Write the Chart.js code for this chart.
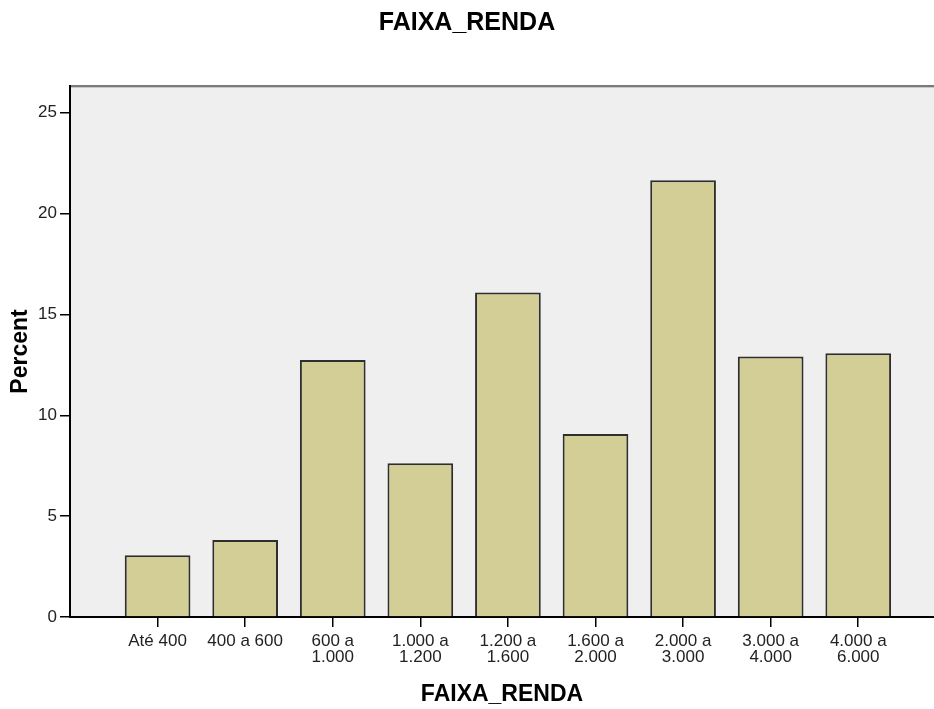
<!DOCTYPE html>
<html>
<head>
<meta charset="utf-8">
<script src="https://cdn.jsdelivr.net/npm/chart.js"></script>
<style>
  html, body { margin: 0; padding: 0; background: #fff; overflow: hidden; }
  #wrap { width: 934px; height: 709px; }
</style>
</head>
<body>
<div id="wrap"><canvas id="rendaChart" width="934" height="709"></canvas></div>
<script>
// categorias e percentuais
const categories = [
  "Até 400", "400 a 600", ["600 a", "1.000"], ["1.000 a", "1.200"], ["1.200 a", "1.600"],
  ["1.600 a", "2.000"], ["2.000 a", "3.000"], ["3.000 a", "4.000"], ["4.000 a", "6.000"]
];
const percentValues = [3.06, 3.82, 12.74, 7.62, 16.08, 9.07, 21.65, 12.91, 13.07];
const yTicks = [0, 5, 10, 15, 20, 25];

const FONT = "'Liberation Sans', Arial, sans-serif";

// fundo cinza da área do gráfico + linha superior
const plotFrame = {
  id: "plotFrame",
  beforeDraw(chart) {
    const { ctx, chartArea: a } = chart;
    ctx.save();
    ctx.fillStyle = "#efefef";
    ctx.fillRect(a.left, a.top, a.right - a.left, a.bottom - a.top);
    ctx.strokeStyle = "#7a7a7a";
    ctx.lineWidth = 2;
    ctx.beginPath();
    ctx.moveTo(a.left, a.top);
    ctx.lineTo(a.right, a.top);
    ctx.stroke();
    ctx.strokeStyle = "#c8c8c8";
    ctx.lineWidth = 1;
    ctx.beginPath();
    ctx.moveTo(a.left, a.top + 1.5);
    ctx.lineTo(a.right, a.top + 1.5);
    ctx.stroke();
    ctx.restore();
  }
};

new Chart(document.getElementById("rendaChart"), {
  type: "bar",
  data: {
    datasets: [{
      label: "Percent",
      data: percentValues.map((v, i) => ({ x: i, y: v })),
      backgroundColor: "#d2ce96",
      borderColor: "#2e2e2e",
      borderWidth: 2,
      barPercentage: 0.75,
      categoryPercentage: 1
    }]
  },
  options: {
    responsive: false,
    animation: false,
    layout: { padding: 0 },
    plugins: {
      legend: { display: false },
      tooltip: { enabled: false },
      title: {
        display: true,
        text: "FAIXA_RENDA",
        color: "#000",
        font: { family: FONT, size: 25, weight: "bold" },
        padding: { top: 8, bottom: 48 }
      }
    },
    scales: {
      x: {
        type: "linear",
        offset: false,
        min: -1,
        max: 8.865,
        grid: { drawOnChartArea: false, offset: false, tickLength: 10, color: "#000", lineWidth: 1.5 },
        border: { display: true, color: "#000", width: 2 },
        afterBuildTicks: s => { s.ticks = categories.map((_, i) => ({ value: i })); },
        afterFit: s => { s.height = 92; },
        ticks: {
          autoSkip: false,
          maxRotation: 0,
          padding: 6,
          color: "#222",
          font: { family: FONT, size: 17, lineHeight: 0.95 },
          callback: v => categories[v]
        },
        title: {
          display: true,
          text: "FAIXA_RENDA",
          color: "#000",
          font: { family: FONT, size: 23, weight: "bold" },
          padding: { top: 0, bottom: 1 }
        }
      },
      y: {
        min: 0,
        max: 26.32,
        grid: { drawOnChartArea: false, tickLength: 10, color: "#000", lineWidth: 1.5 },
        border: { display: true, color: "#000", width: 2 },
        afterBuildTicks: s => { s.ticks = yTicks.map(v => ({ value: v })); },
        afterFit: s => { s.width = 70; },
        ticks: {
          padding: 3,
          color: "#222",
          font: { family: FONT, size: 17 }
        },
        title: {
          display: true,
          text: "Percent",
          color: "#000",
          font: { family: FONT, size: 23, weight: "bold" },
          padding: { top: 7, bottom: 0 }
        }
      }
    }
  },
  plugins: [plotFrame]
});
</script>
</body>
</html>
